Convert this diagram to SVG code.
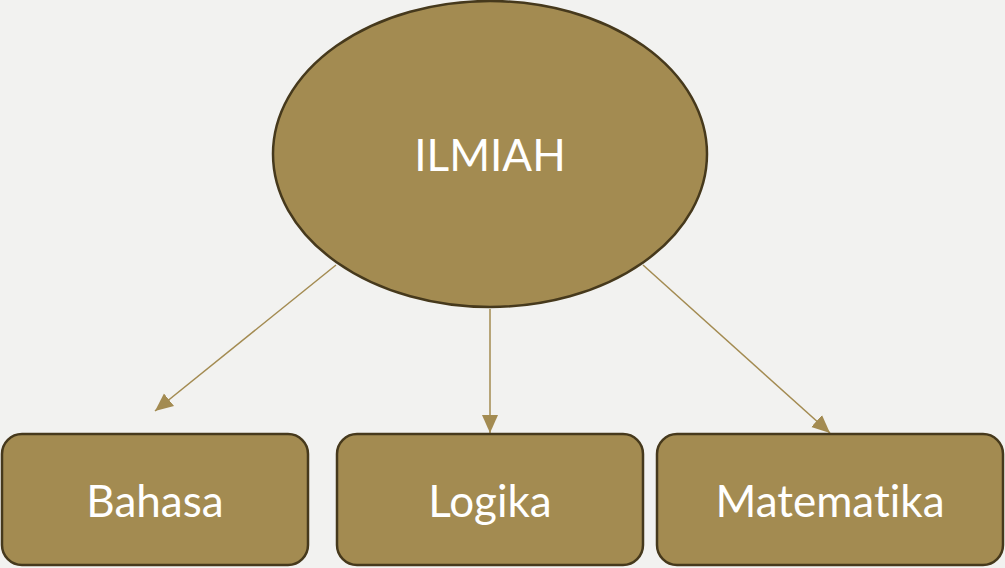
<svg xmlns="http://www.w3.org/2000/svg" width="1005" height="568" viewBox="0 0 1005 568">
<style>
.shape{fill:#A38B51;stroke:#46391C;stroke-width:2.5}
.lbl{font-family:Lato,"Open Sans",sans-serif;font-size:44px;fill:#FFFFFF;text-anchor:middle;font-variant-ligatures:none;font-feature-settings:"liga" 0,"dlig" 0}
.conn{stroke:#A38B51;stroke-width:1.5;fill:none;marker-end:url(#ah)}
</style>
<defs>
<marker id="ah" markerUnits="userSpaceOnUse" markerWidth="20" markerHeight="20" viewBox="0 0 20 20" refX="18" refY="10" orient="auto">
<path d="M0,2 L18,10 L0,18 Z" fill="#A38B51"/>
</marker>
</defs>
<rect width="1005" height="568" fill="#F2F2F0"/>
<g id="connectors">
<line class="conn" x1="336" y1="265" x2="155" y2="411"/>
<line class="conn" x1="490" y1="309" x2="490" y2="433"/>
<line class="conn" x1="643" y1="265" x2="830" y2="433"/>
</g>
<g id="ilmiah">
<ellipse class="shape" cx="490" cy="154" rx="217" ry="153"/>
<text class="lbl" x="490" y="171">ILMIAH</text>
</g>
<g id="bahasa">
<rect class="shape" x="2" y="434" width="306" height="131" rx="20"/>
<text class="lbl" x="155" y="517">Bahasa</text>
</g>
<g id="logika">
<rect class="shape" x="337" y="434" width="306" height="131" rx="20"/>
<text class="lbl" x="490" y="517">Logika</text>
</g>
<g id="matematika">
<rect class="shape" x="657" y="434" width="346" height="131" rx="20"/>
<text class="lbl" x="830" y="517">Matematika</text>
</g>
</svg>
